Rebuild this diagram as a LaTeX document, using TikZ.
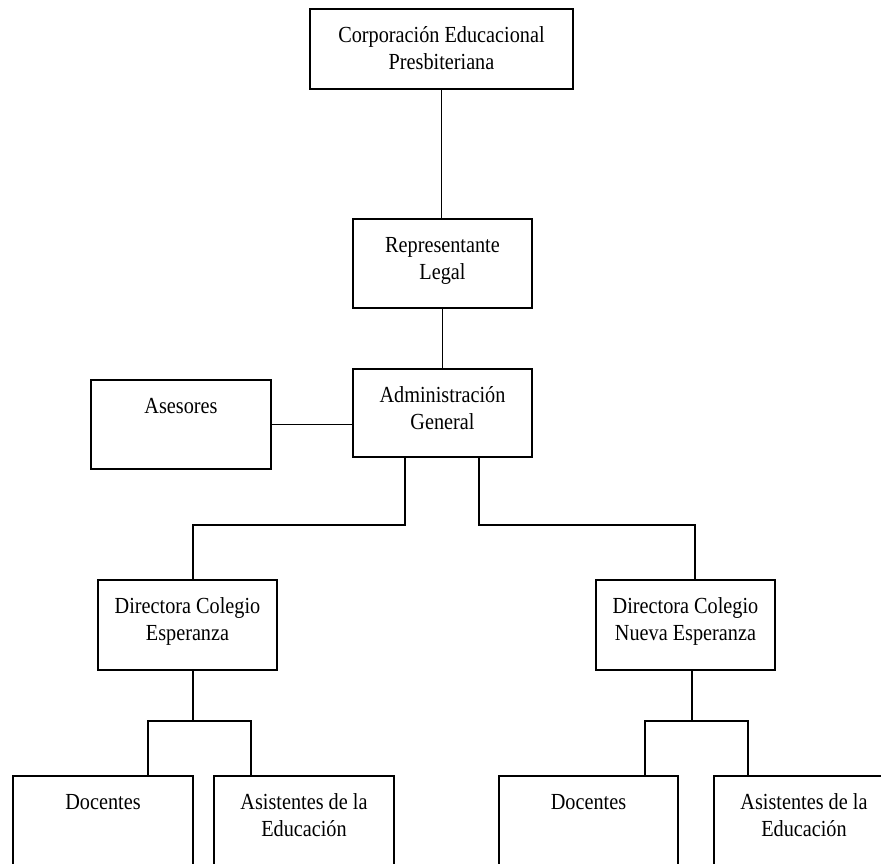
\documentclass[tikz,border=0pt]{standalone}
\usepackage{fontspec}
\setmainfont[FakeStretch=0.88]{Liberation Serif}
\usetikzlibrary{positioning,calc}
% texto arriba dentro de la caja: ancho, alto, contenido
\newcommand{\boxtxt}[3]{\parbox[c][#2][t]{#1}{\centering\rule{0pt}{33pt}#3}}

\begin{document}
\begin{tikzpicture}[x=1pt,y=-1pt,
  orgbox/.style={draw,line width=1.6pt,inner sep=0pt,font=\fontsize{23}{27}\selectfont},
  link/.style={line width=1.6pt}]
  \useasboundingbox (0,0) rectangle (881,863);
  \clip (0,0) rectangle (881,863);
  % nivel superior
  \node[orgbox] (corp) at (441.5,49) {\boxtxt{263pt}{80pt}{Corporación Educacional\\Presbiteriana}};
  \node[orgbox] (rep) at (442.5,263.5) {\boxtxt{179pt}{89pt}{Representante\\Legal}};
  \node[orgbox] (adm) at (442.5,413) {\boxtxt{179pt}{88pt}{Administración\\General}};
  \node[orgbox] (ases) at (181,424.5) {\boxtxt{180pt}{89pt}{Asesores}};
  % directoras
  \node[orgbox] (dirL) at (187.5,625) {\boxtxt{179pt}{90pt}{Directora Colegio\\Esperanza}};
  \node[orgbox] (dirR) at (685.5,625) {\boxtxt{179pt}{90pt}{Directora Colegio\\Nueva Esperanza}};
  % personal
  \node[orgbox] (docL) at (103,826) {\boxtxt{180pt}{100pt}{Docentes}};
  \node[orgbox] (asiL) at (304,826) {\boxtxt{180pt}{100pt}{Asistentes de la\\Educación}};
  \node[orgbox] (docR) at (588.5,826) {\boxtxt{179pt}{100pt}{Docentes}};
  \node[orgbox] (asiR) at (804,826) {\boxtxt{180pt}{100pt}{Asistentes de la\\Educación}};
  % conexiones
  \draw[link] (corp.south) -- (corp.south |- rep.north);
  \draw[link] (rep.south) -- (adm.north);
  \draw[link] (ases.east) -- (ases.east -| adm.west);
  \draw[link] ([xshift=-37.5pt]adm.south) -- ++(0,67) -| ([xshift=5.5pt]dirL.north);
  \draw[link] ([xshift=36.5pt]adm.south) -- ++(0,67) -| ([xshift=9.5pt]dirR.north);
  \draw[link] ([xshift=5.5pt]dirL.south) -- ++(0,50) coordinate (jL);
  \draw[link] ([xshift=45pt]docL.north) |- (jL) -| ([xshift=-53pt]asiL.north);
  \draw[link] ([xshift=6.5pt]dirR.south) -- ++(0,50) coordinate (jR);
  \draw[link] ([xshift=56.5pt]docR.north) |- (jR) -| ([xshift=-56pt]asiR.north);
\end{tikzpicture}
\end{document}
